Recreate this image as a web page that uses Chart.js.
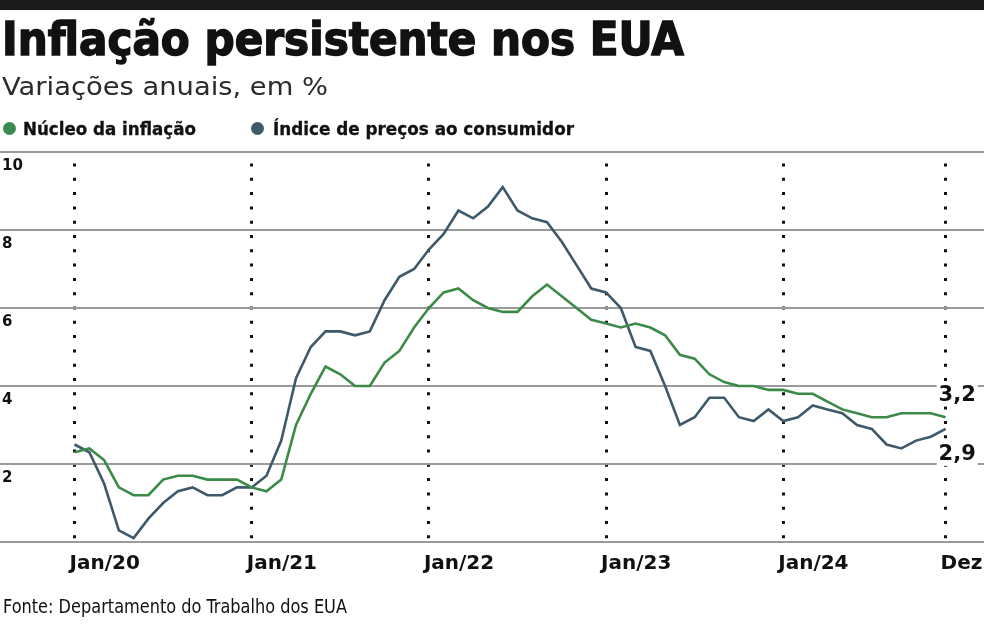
<!DOCTYPE html>
<html lang="pt-BR">
<head>
<meta charset="utf-8">
<title>Inflação persistente nos EUA</title>
<script src="https://cdn.jsdelivr.net/npm/chart.js@4.4.1/dist/chart.umd.min.js"></script>
<style>
  html, body { margin: 0; padding: 0; background: #fff; }
  body { width: 984px; height: 627px; position: relative; overflow: hidden; color: #111; font-family: "DejaVu Sans", sans-serif; }
  #topbar { position: absolute; left: 0; top: 0; width: 984px; height: 10px; background: #1b1b1b; }
  #chartBox { position: absolute; left: 0; top: 0; width: 984px; height: 627px; }
  .txt { position: absolute; display: inline-block; white-space: nowrap; transform-origin: 0 0; }
  #title { left: 2px; top: 16px; font: bold 46px/46px "DejaVu Sans Condensed", "DejaVu Sans", sans-serif; -webkit-text-stroke: 1.4px #111; }
  #subtitle { left: 2px; top: 74px; font: 400 24.5px/25px "DejaVu Sans", sans-serif; color: #2a2a2a; }
  .leg { top: 121px; font: bold 17.5px/17.5px "DejaVu Sans Condensed", "DejaVu Sans", sans-serif; -webkit-text-stroke: 0.3px #111; }
  .dot { position: absolute; top: 122px; width: 13px; height: 13px; border-radius: 50%; }
  #source { left: 3px; top: 597px; font: 19px/19px "DejaVu Sans Condensed", "DejaVu Sans", sans-serif; }
</style>
</head>
<body>
<div id="chartBox"><canvas id="inflChart" width="984" height="627"></canvas></div>
<div id="topbar"></div>
<div class="txt" id="title" data-w="682">Inflação persistente nos EUA</div>
<div class="txt" id="subtitle" data-w="326">Variações anuais, em %</div>
<div class="dot" style="left:3px;background:#3a8b4f"></div>
<div class="txt leg" style="left:23px" data-w="173">Núcleo da inflação</div>
<div class="dot" style="left:251px;background:#3f5a6b"></div>
<div class="txt leg" style="left:273px" data-w="301">Índice de preços ao consumidor</div>
<div class="txt" id="source" data-w="344">Fonte: Departamento do Trabalho dos EUA</div>
<script>
// ==== Data (variação anual, %) jan/2020 .. dez/2024 ====
const nucleo = [
  2.3, 2.4, 2.1, 1.4, 1.2, 1.2, 1.6, 1.7, 1.7, 1.6, 1.6, 1.6,
  1.4, 1.3, 1.6, 3.0, 3.8, 4.5, 4.3, 4.0, 4.0, 4.6, 4.9, 5.5,
  6.0, 6.4, 6.5, 6.2, 6.0, 5.9, 5.9, 6.3, 6.6, 6.3, 6.0, 5.7,
  5.6, 5.5, 5.6, 5.5, 5.3, 4.8, 4.7, 4.3, 4.1, 4.0, 4.0, 3.9,
  3.9, 3.8, 3.8, 3.6, 3.4, 3.3, 3.2, 3.2, 3.3, 3.3, 3.3, 3.2
];
const cpi = [
  2.5, 2.3, 1.5, 0.3, 0.1, 0.6, 1.0, 1.3, 1.4, 1.2, 1.2, 1.4,
  1.4, 1.7, 2.6, 4.2, 5.0, 5.4, 5.4, 5.3, 5.4, 6.2, 6.8, 7.0,
  7.5, 7.9, 8.5, 8.3, 8.6, 9.1, 8.5, 8.3, 8.2, 7.7, 7.1, 6.5,
  6.4, 6.0, 5.0, 4.9, 4.0, 3.0, 3.2, 3.7, 3.7, 3.2, 3.1, 3.4,
  3.1, 3.2, 3.5, 3.4, 3.3, 3.0, 2.9, 2.5, 2.4, 2.6, 2.7, 2.9
];
const seriesNames = ["Núcleo da inflação", "Índice de preços ao consumidor"];
const seriesColors = ["#3b8a47", "#3e5a6a"];
const tickIndex = [0, 12, 24, 36, 48, 59];
const tickLabels = ["Jan/20", "Jan/21", "Jan/22", "Jan/23", "Jan/24", "Dez"];
const yTicks = [0, 2, 4, 6, 8, 10];

// ==== Header text: fit to the reference widths ====
document.querySelectorAll(".txt").forEach(el => {
  const w = el.getBoundingClientRect().width;
  el.style.transform = `scaleX(${el.dataset.w / w})`;
});

// ==== End labels (3,2 / 2,9) ====
const endShift = [-22, 26];
const endLabels = {
  id: "endLabels",
  afterDatasetsDraw(chart) {
    const { ctx, scales: { x, y } } = chart;
    ctx.save();
    ctx.font = 'bold 21px "DejaVu Sans"';
    ctx.textBaseline = "middle";
    chart.data.datasets.forEach((ds, i) => {
      const last = ds.data[ds.data.length - 1];
      const text = last.y.toFixed(1).replace(".", ",");
      const px = x.getPixelForValue(last.x) - 7;
      const py = y.getPixelForValue(last.y) + endShift[i];
      const w = ctx.measureText(text).width;
      ctx.fillStyle = "#fff";
      ctx.fillRect(px - 2, py - 11, w + 4, 22);
      ctx.fillStyle = "#111";
      ctx.fillText(text, px, py);
    });
    ctx.restore();
  }
};

// ==== Chart ====
const toPoints = arr => arr.map((v, i) => ({ x: i, y: v }));

const chart = new Chart(document.getElementById("inflChart").getContext("2d"), {
  type: "line",
  data: {
    datasets: [nucleo, cpi].map((arr, i) => ({
      label: seriesNames[i],
      data: toPoints(arr),
      borderColor: seriesColors[i],
      borderWidth: 2.6,
      pointRadius: 0,
      tension: 0,
      fill: false
    }))
  },
  options: {
    responsive: false,
    animation: false,
    layout: { padding: { top: 152, bottom: 41, left: 0, right: 0 } },
    plugins: { legend: { display: false }, tooltip: { enabled: false } },
    scales: {
      x: {
        type: "linear",
        min: -5.05,
        max: 61.6,
        afterBuildTicks: s => { s.ticks = tickIndex.map(v => ({ value: v })); },
        afterFit: s => { s.paddingLeft = 0; s.paddingRight = 0; },
        ticks: {
          autoSkip: false,
          maxRotation: 0,
          align: "start",
          labelOffset: -5,
          padding: 10,
          color: "#111",
          font: { family: "DejaVu Sans", size: 20, weight: "bold" },
          callback: (v, i) => tickLabels[i]
        },
        grid: { color: "#111", lineWidth: 3, drawTicks: false },
        border: { display: false, dash: [3, 11.3], dashOffset: 2.8 }
      },
      y: {
        min: 0,
        max: 10,
        afterBuildTicks: s => { s.ticks = yTicks.map(v => ({ value: v })); },
        afterFit: s => { s.width = 0; s.paddingTop = 0; s.paddingBottom = 0; },
        ticks: {
          mirror: true,
          padding: 2,
          labelOffset: 14,
          color: "#111",
          font: { family: "DejaVu Sans", size: 15, weight: "bold" },
          callback: v => (v === 0 ? "" : v)
        },
        grid: { color: "#9a9a9a", lineWidth: 2, drawTicks: false },
        border: { display: false }
      }
    }
  },
  plugins: [endLabels]
});
</script>
</body>
</html>
